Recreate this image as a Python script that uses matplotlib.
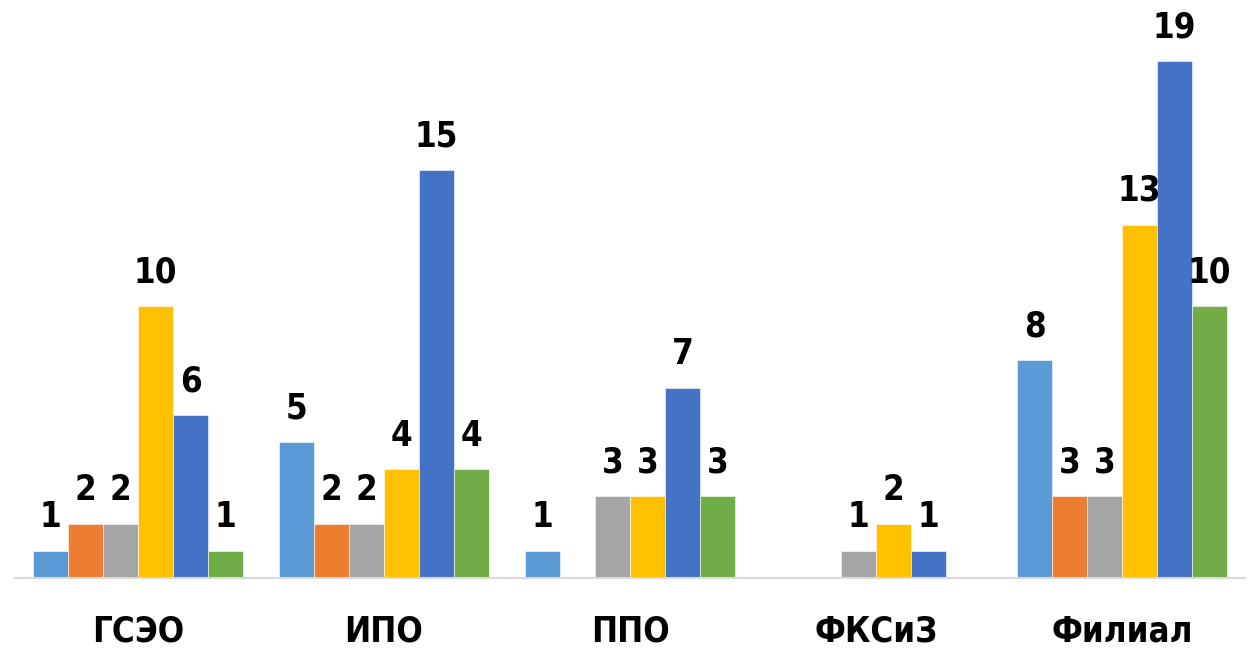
import matplotlib
matplotlib.use("Agg")
import matplotlib.pyplot as plt
import numpy as np

categories = ["ГСЭО", "ИПО", "ППО", "ФКСиЗ", "Филиал"]
series_1 = [1, 5, 1, np.nan, 8]
series_2 = [2, 2, np.nan, np.nan, 3]
series_3 = [2, 2, 3, 1, 3]
series_4 = [10, 4, 3, 2, 13]
series_5 = [6, 15, 7, 1, 19]
series_6 = [1, 4, 3, np.nan, 10]
series = [series_1, series_2, series_3, series_4, series_5, series_6]
colors = ["#5B9BD5", "#ED7D31", "#A5A5A5", "#FFC000", "#4472C4", "#70AD47"]

fig = plt.figure(figsize=(12.51, 6.51), dpi=100)
ax = fig.add_axes([15/1251, (651-578)/651, 1230/1251, (578-7)/651])

n = len(series)
bw = 35/246
x = np.arange(len(categories))
for i, (vals, c) in enumerate(zip(series, colors)):
    pos = x + (i - (n-1)/2) * bw
    v = np.array(vals, dtype=float)
    ax.bar(pos, np.nan_to_num(v), width=bw, color=c, edgecolor="white", linewidth=0.4, zorder=2)
    for p, val in zip(pos, v):
        if not np.isnan(val):
            ax.annotate(f"{int(val)}", (p, val), xytext=(0, 12), textcoords="offset points",
                        ha="center", va="bottom", fontsize=25, fontfamily="DejaVu Sans",
                        fontstretch="condensed", fontweight="bold", clip_on=False)

ax.set_xlim(-0.5, len(categories) - 0.5)
ax.set_ylim(0, 21)
for s in ["top", "right", "left"]:
    ax.spines[s].set_visible(False)
ax.spines["bottom"].set_color("#D9D9D9")
ax.spines["bottom"].set_linewidth(1.5)
ax.set_yticks([])
ax.set_xticks(x)
ax.set_xticklabels(categories, fontsize=25, fontweight="bold", fontfamily="DejaVu Sans",
                   fontstretch="condensed")
ax.tick_params(axis="x", length=0, pad=26)

fig.savefig("out.png", dpi=100)
